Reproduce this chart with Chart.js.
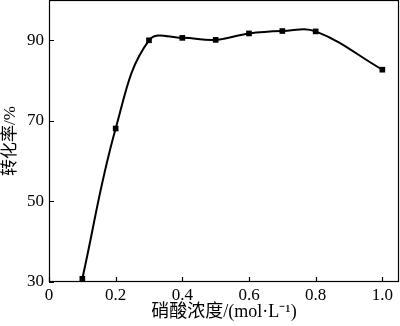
<!DOCTYPE html>
<html><head><meta charset="utf-8">
<script src="https://cdn.jsdelivr.net/npm/chart.js@4/dist/chart.umd.min.js"></script>
<style>html,body{margin:0;padding:0;background:#fff}#w{width:400px;height:326px}</style>
</head><body><div id="w"><canvas id="c"></canvas></div>
<script>
const xValues = [0.1, 0.2, 0.3, 0.4, 0.5, 0.6, 0.7, 0.8, 1.0];
const conversion = [30.8, 68.1, 90.0, 90.6, 90.1, 91.7, 92.3, 92.2, 82.7];
const xTicks = [0, 0.2, 0.4, 0.6, 0.8, 1.0];
const yTicks = [30, 50, 70, 90];
const xTitle = '硝酸浓度/(mol·L⁻¹)';
const yTitle = '转化率/%';

const FONT = '"Liberation Serif", "Times New Roman", "Noto Sans CJK SC", serif';

const frameTicks = {
  id: 'frameTicks',
  afterDatasetsDraw(chart) {
    const {ctx, chartArea: a, scales} = chart;
    ctx.save();
    ctx.strokeStyle = '#000';
    ctx.lineWidth = 1.2;
    ctx.strokeRect(a.left + 0.5, a.top + 0.5, a.right - a.left - 1, a.bottom - a.top - 1);
    ctx.beginPath();
    scales.x.ticks.forEach((t, i) => {
      const px = Math.round(scales.x.getPixelForTick(i)) + 0.5;
      ctx.moveTo(px, a.bottom); ctx.lineTo(px, a.bottom - 5);
    });
    scales.y.ticks.forEach((t, i) => {
      const py = Math.round(scales.y.getPixelForTick(i)) + 0.5;
      ctx.moveTo(a.left, py); ctx.lineTo(a.left + 5, py);
    });
    ctx.stroke();
    ctx.restore();
  }
};

new Chart(document.getElementById('c'), {
  type: 'line',
  data: {
    datasets: [{
      data: xValues.map((x, i) => ({x, y: conversion[i]})),
      borderColor: '#000',
      backgroundColor: '#000',
      borderWidth: 2,
      tension: 0.4,
      pointStyle: 'rect',
      pointRadius: 4,
      pointBorderWidth: 0,
      clip: false
    }]
  },
  options: {
    responsive: true,
    maintainAspectRatio: false,
    animation: false,
    layout: {autoPadding: false, padding: {top: 0, right: 1, left: 0, bottom: 0}},
    plugins: {legend: {display: false}, tooltip: {enabled: false}},
    scales: {
      x: {
        type: 'linear', min: 0, max: 1.05,
        afterBuildTicks: s => { s.ticks = xTicks.map(v => ({value: v})); },
        afterFit: s => { s.height = 44; s.paddingLeft = 0; s.paddingRight = 0; },
        grid: {display: false, drawTicks: false},
        border: {display: false},
        ticks: {
          color: '#000', padding: 3, maxRotation: 0,
          font: {family: FONT, size: 17},
          callback: v => v === 0 ? '0' : v.toFixed(1)
        },
        title: {display: true, text: xTitle, color: '#000', font: {family: FONT, size: 18}, padding: {top: 0, bottom: 3}}
      },
      y: {
        type: 'linear', min: 30, max: 100,
        afterBuildTicks: s => { s.ticks = yTicks.map(v => ({value: v})); },
        afterFit: s => { s.width = 49; s.paddingTop = 0; s.paddingBottom = 0; },
        grid: {display: false, drawTicks: false},
        border: {display: false},
        ticks: {color: '#000', padding: 5, font: {family: FONT, size: 17}},
        title: {display: true, text: yTitle, color: '#000', font: {family: FONT, size: 17}, padding: {top: 0, bottom: 4}}
      }
    }
  },
  plugins: [frameTicks]
});
</script></body></html>
